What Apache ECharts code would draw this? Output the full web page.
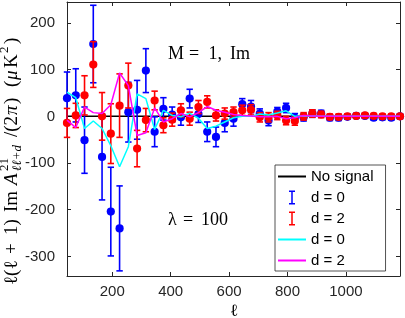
<!DOCTYPE html>
<html><head><meta charset="utf-8">
<script src="https://cdn.jsdelivr.net/npm/echarts@6/dist/echarts.min.js"></script>
<style>html,body{margin:0;padding:0;background:#fff}#c{width:405px;height:318px}</style>
</head><body><div id="c"></div>
<script>
// ---- data ----
const ell = [45,75,105,135,165,195,225,255,285,315,345,375,405,435,465,495,525,555,585,615,645,675,705,735,765,795,825,855,885,915,945,975,1005,1035,1065,1095,1125,1155,1185];
const noSignal = [0,0,0,0,0,0,0,0,0,0,0,0,0,0,0,0,0,0,0,0,0,0,0,0,0,0,0,0,0,0,0,0,0,0,0,0,0,0,0];
const blueVal = [39,45,-51,155,-87,-204,-240,9,14,98,-33,16,4,-2,38,5,-33,-44,-14,-5,26,21,6,-9,10,18,-3,-2,6,6,-3,-3,-1,1,1,-3,-2,-3,0];
const blueErr = [56,57,71,83,92,95,91,64,63,47,32,24,16,17,20,18,21,21,19,16,12,13,10,11,9,10,9,8,8,7,6,6,5,5,5,5,5,5,5];
const redVal = [-14,2,45,111,0,-37,23,66,-69,-8,34,-19,-7,13,-5,20,31,2,6,9,13,14,-2,-2,2,-9,-10,0,6,4,-1,-1,0,1,2,1,0,0,0];
const redErr = [31,26,42,49,51,64,68,48,39,25,20,16,14,14,14,14,13,12,12,11,11,11,10,10,9,9,9,8,8,7,6,6,5,5,5,5,5,5,5];
const cyanVal = [52,40,-26,-10,-26,-63,-108,-65,48,38,-28,13,2,-1,7,-4,-26,-21,-12,-3,0,0,5,3,7,12,0,1,1,0,0,0,0,0,0,0,0,0,0];
const magentaVal = [-8,-24,20,8,6,25,93,66,-41,-35,18,-12,-5,6,-1,8,21,13,9,4,2,1,-1,-1,0,-5,-3,2,1,0,0,0,0,0,0,0,0,0,0];
const xTicks = [200,400,600,800,1000];
const yTicks = [-300,-200,-100,0,100,200];

const AX = '#262626';
const chart = echarts.init(document.getElementById('c'), null, {renderer:'canvas'});

function errItem(color){
  return function(params, api){
    const x = api.value(0), v = api.value(1), e = api.value(2);
    const c = api.coord([x, v]), t = api.coord([x, v + e]), b = api.coord([x, v - e]);
    const cw = 3.2;
    const ls = {stroke: color, lineWidth: 1.6};
    return {type:'group', children:[
      {type:'line', shape:{x1:c[0], y1:t[1], x2:c[0], y2:b[1]}, style:ls},
      {type:'line', shape:{x1:c[0]-cw, y1:t[1], x2:c[0]+cw, y2:t[1]}, style:ls},
      {type:'line', shape:{x1:c[0]-cw, y1:b[1], x2:c[0]+cw, y2:b[1]}, style:ls},
      {type:'circle', shape:{cx:c[0], cy:c[1], r:4.1}, style:{fill:color}}
    ]};
  };
}

// y-axis label pieces: [text, offset along label, size, italic, perpendicular shift]
const F = 19, S = 13;
const yPieces = [
  ['ℓ(ℓ', 0, F, false, 0], ['+', 31, F, false, 0], ['1)', 50, F, false, 0],
  ['Im', 73, F, false, 0], ['A', 100, F, true, 0],
  ['21', 114, S, false, -7], ['ℓℓ+d', 114, S, true, 6],
  ['/(2', 148, F, false, 0], ['π', 170, F, true, 0], [')', 181, F, false, 0],
  ['(', 198, F, false, 0], ['μ', 205, F, true, 0], ['K', 217, F, false, 0],
  ['2', 232, S, false, -7], [')', 241, F, false, 0]
];
const LABEL_LEN = 250;
const yLabelChildren = yPieces.map(p => ({type:'text', x: p[1] - LABEL_LEN/2, y: p[4],
  style:{text:p[0], fontSize:p[2], fontFamily:'Liberation Serif', fontStyle:p[3]?'italic':'normal', fill:'#000', align:'left', verticalAlign:'middle'}}));

function serifText(t, x, y, it){
  return {type:'text', x, y, style:{text:t, fontFamily:'Liberation Serif', fontSize:18, fontStyle: it?'italic':'normal', fill:'#000', verticalAlign:'middle', align:'left'}};
}

const LINE_ICON = 'path://M0,0H28V2H0Z';
const I_ICON = 'path://M0,0H6V1.5H3.75V12.5H6V14H0V12.5H2.25V1.5H0Z';

const xBase = {type:'value', min:45, max:1185, splitLine:{show:false},
  axisLine:{show:true, onZero:false, lineStyle:{color:AX, width:1}},
  axisTick:{show:true, inside:true, length:4, customValues:xTicks, lineStyle:{color:AX}}};
const yBase = {type:'value', min:-342, max:245, splitLine:{show:false},
  axisLine:{show:true, onZero:false, lineStyle:{color:AX, width:1}},
  axisTick:{show:true, inside:true, length:4, customValues:yTicks, lineStyle:{color:AX}}};

chart.setOption({
  animation:false,
  backgroundColor:'#fff',
  grid:{left:67, right:5, top:2, bottom:42, containLabel:false},
  xAxis:[
    Object.assign({}, xBase, {position:'bottom', axisLabel:{customValues:xTicks, margin:8, fontSize:15, color:AX, fontFamily:'Liberation Sans', formatter: v => String(v)}}),
    Object.assign({}, xBase, {position:'top', axisLabel:{show:false}})
  ],
  yAxis:[
    Object.assign({}, yBase, {position:'left', axisLabel:{customValues:yTicks, margin:12, fontSize:15, color:AX, fontFamily:'Liberation Sans', formatter: v => String(v)}}),
    Object.assign({}, yBase, {position:'right', axisLabel:{show:false}})
  ],
  legend:{orient:'vertical', left:275, top:165, padding:[4,12,3,3], itemWidth:28, itemHeight:14, itemGap:6,
    backgroundColor:'#fff', borderColor:AX, borderWidth:0.8, selectedMode:false,
    textStyle:{fontSize:15, fontFamily:'Liberation Sans', color:'#000', lineHeight:14},
    formatter: n => n.trim(),
    data:[{name:'No signal', icon:LINE_ICON}, {name:'d = 0', icon:I_ICON}, {name:'d = 2', icon:I_ICON},
          {name:'d = 0 ', icon:LINE_ICON}, {name:'d = 2 ', icon:LINE_ICON}]},
  series:[
    {name:'No signal', type:'line', data: ell.map((x,i)=>[x, noSignal[i]]), symbol:'none', color:'#000', lineStyle:{color:'#000', width:1.5}, z:1},
    {name:'d = 0', type:'custom', renderItem: errItem('#0000ff'), data: ell.map((x,i)=>[x, blueVal[i], blueErr[i]]), itemStyle:{color:'#0000ff'}, clip:false, z:2},
    {name:'d = 2', type:'custom', renderItem: errItem('#ff0000'), data: ell.map((x,i)=>[x, redVal[i], redErr[i]]), itemStyle:{color:'#ff0000'}, clip:false, z:3},
    {name:'d = 0 ', type:'line', data: ell.map((x,i)=>[x, cyanVal[i]]), symbol:'none', color:'#00ffff', lineStyle:{color:'#00ffff', width:1.5}, z:4},
    {name:'d = 2 ', type:'line', data: ell.map((x,i)=>[x, magentaVal[i]]), symbol:'none', color:'#ff00ff', lineStyle:{color:'#ff00ff', width:1.5}, z:5}
  ],
  graphic:[
    {type:'group', x:12, y:160, rotation:Math.PI/2, children:yLabelChildren},
    serifText('M', 168, 54), serifText('=', 189, 54), serifText('1,', 208.5, 54), serifText('Im', 230, 54),
    serifText('λ', 168, 220), serifText('=', 183, 220), serifText('100', 201, 220),
    {type:'text', x:234, y:312, style:{text:'ℓ', fontFamily:'Liberation Serif', fontSize:17, fill:'#000', align:'center', verticalAlign:'middle'}}
  ]
});
</script></body></html>
